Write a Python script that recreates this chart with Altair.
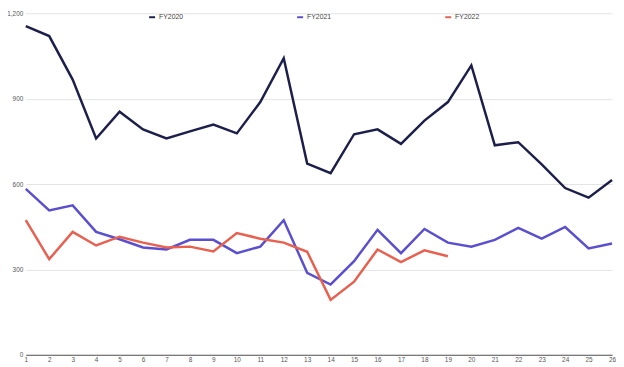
import altair as alt
import pandas as pd

weeks = list(range(1, 27))
fy2020 = [1155, 1120, 967, 760, 854, 792, 760, 785, 809, 778, 888, 1042, 672,
          638, 775, 792, 741, 823, 888, 1017, 736, 747, 669, 586, 552, 614]
fy2021 = [583, 507, 525, 432, 406, 377, 370, 404, 404, 357, 380, 473, 288,
          247, 329, 439, 357, 442, 394, 380, 404, 446, 408, 449, 374, 391]
fy2022 = [473, 336, 432, 384, 415, 394, 377, 380, 363, 428, 408, 394, 362,
          193, 257, 370, 326, 367, 346]

series = ["FY2020", "FY2021", "FY2022"]
colors = ["#1c1f4a", "#5a4fcf", "#e8604f"]

rows = []
for name, vals in zip(series, [fy2020, fy2021, fy2022]):
    for w, v in zip(weeks, vals):
        rows.append({"week": w, "value": v, "series": name})
df = pd.DataFrame(rows)

font = "Liberation Sans"

chart = alt.Chart(df).mark_line(strokeWidth=2.5).encode(
    x=alt.X("week:Q",
            scale=alt.Scale(domain=[1, 26], nice=False, zero=False),
            axis=alt.Axis(values=weeks, title=None, grid=False, ticks=False,
                          format="d",
                          labelFontSize=6.5, labelColor="#555555", labelFont=font,
                          labelPadding=2, domainColor="#555555", domainWidth=1,
                          labelFlush=False, labelOverlap=False)),
    y=alt.Y("value:Q",
            scale=alt.Scale(domain=[0, 1200], nice=False),
            axis=alt.Axis(values=[0, 300, 600, 900, 1200], title=None,
                          format=",d", grid=True, gridColor="#e4e4e4",
                          gridWidth=1, ticks=False, domain=False,
                          labelFontSize=6.5, labelColor="#555555", labelFont=font,
                          labelPadding=3)),
    color=alt.Color("series:N",
                    scale=alt.Scale(domain=series, range=colors),
                    legend=alt.Legend(title=None, orient="none",
                                      direction="horizontal",
                                      legendX=124, legendY=0,
                                      symbolType="stroke", symbolSize=36,
                                      symbolStrokeWidth=2,
                                      labelFontSize=7, labelFont=font,
                                      labelColor="#444444", labelOffset=3,
                                      columnPadding=111)),
).properties(
    width=594, height=346,
    background="white",
    autosize=alt.AutoSizeParams(type="none"),
    padding={"left": 18, "top": 3, "right": 4, "bottom": 8},
).configure_view(strokeWidth=0)

chart.save("out.html", embed_options={"renderer": "svg", "actions": False})
